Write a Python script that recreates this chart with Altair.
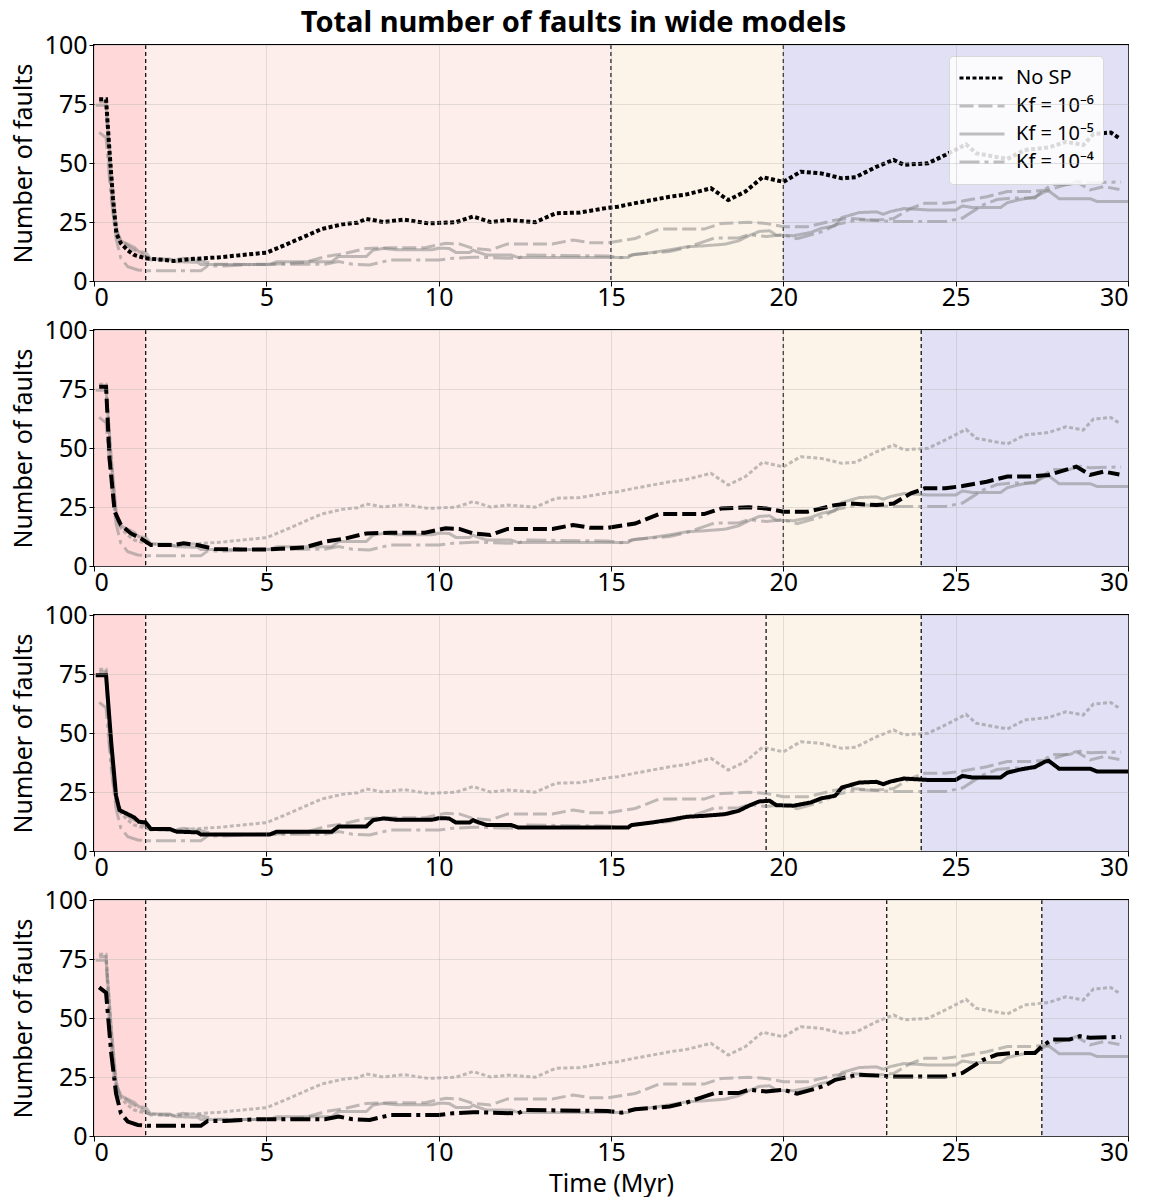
import altair as alt
import pandas as pd

# ---------------- data ----------------
SERIES = ["No SP", "Kf = 10⁻⁶", "Kf = 10⁻⁵", "Kf = 10⁻⁴"]

nosp_t = [0.15, 0.35, 0.45, 0.55, 0.65, 0.78, 0.98, 1.17, 1.5, 2.0, 2.3, 2.8, 3.6, 4.3, 5.0, 5.5,
          6.1, 6.6, 7.2, 7.65, 7.9, 8.4, 9.0, 9.7, 10.5, 11.0, 11.5, 12.0, 12.8, 13.4, 14.1, 14.9,
          15.2, 15.7, 16.2, 16.7, 17.2, 17.9, 18.4, 18.9, 19.4, 20.0, 20.5, 21.1, 21.7, 22.1, 22.7,
          23.2, 23.5, 24.2, 24.7, 25.3, 25.6, 26.5, 27.0, 27.7, 28.2, 28.7, 29.0, 29.5, 29.75]
nosp_v = [77, 77, 55, 35, 20, 16, 13, 11, 9.6, 9, 8.5, 9.3, 10, 11, 12, 15,
          18.8, 22, 24, 24.7, 26.3, 25, 26, 24.4, 24.9, 27.3, 25, 25.8, 24.9, 28.7, 29, 31,
          31.5, 33, 34.3, 35.7, 36.7, 39.3, 34.3, 37.9, 44, 42, 46.3, 45.6, 43.5, 44, 48.4,
          51.3, 49.2, 49.9, 53.4, 57.9, 54.1, 51.7, 55.5, 56.6, 59, 57.6, 62.3, 62.9, 60.5]

kf6_t = [0.15, 0.35, 0.45, 0.6, 0.78, 1.07, 1.36, 1.65, 2.3, 2.6, 3.0, 3.5, 4.3, 5.0, 6.1, 6.7,
         7.3, 7.9, 8.6, 9.6, 10.2, 10.6, 11.0, 11.5, 12.0, 13.3, 13.9, 14.4, 14.9, 15.7, 16.4,
         17.7, 18.2, 19.0, 19.5, 20.0, 20.7, 21.5, 21.9, 22.7, 23.2, 23.7, 24.1, 24.7, 25.2,
         25.9, 26.5, 27.2, 27.7, 28.5, 28.9, 29.3, 29.75]
kf6_v = [76, 76, 45.6, 23, 17.4, 13.8, 11.7, 8.9, 8.9, 9.6, 8.9, 7.2, 7, 7, 7.8, 10.3,
         11.7, 13.8, 14.1, 14.1, 16, 15.7, 13.8, 13.1, 15.7, 15.7, 17.4, 16.2, 16.2, 18, 22,
         22, 24.4, 24.9, 24.4, 23, 23, 25.8, 26.5, 25.8, 26.5, 30.8, 32.9, 32.9, 33.9,
         35.7, 37.9, 37.9, 38.6, 42.1, 38.6, 40, 38.8]

kf5_t = [0.05, 0.35, 0.5, 0.64, 0.74, 0.98, 1.17, 1.3, 1.5, 1.65, 2.2, 2.4, 3.0, 3.1, 5.1, 5.3,
         6.9, 7.1, 7.9, 8.1, 8.4, 8.8, 9.8, 10.0, 10.3, 10.5, 10.9, 11.0, 11.1, 11.4, 12.1, 12.3,
         15.5, 15.6, 16.2, 16.7, 17.2, 17.7, 18.3, 18.7, 19.0, 19.3, 19.6, 19.8, 20.3, 20.8,
         21.1, 21.5, 21.7, 22.2, 22.7, 22.9, 23.1, 23.5, 24.2, 25.0, 25.2, 25.5, 26.3, 26.5,
         26.9, 27.3, 27.6, 27.7, 28.0, 28.9, 29.1, 30.0]
kf5_v = [74.5, 74.5, 46, 23.4, 17.3, 15.6, 14.2, 12.4, 12.1, 9.3, 9.3, 8.2, 7.9, 7, 7, 8.2,
         8.2, 10.4, 10.4, 13.1, 13.8, 13.2, 13.2, 13.9, 13.8, 12.1, 12.1, 13.1, 12.4, 11, 11, 10,
         10, 11, 12.1, 13.2, 14.5, 14.9, 15.6, 17, 19.2, 21, 21.3, 19.4, 19.2, 20.6,
         22.3, 23.4, 26.9, 29, 29.3, 28.3, 29.4, 30.7, 30.1, 30.1, 31.8, 31.1, 31.1, 33.2,
         34.6, 35.6, 37.9, 38.2, 34.9, 34.9, 33.7, 33.7]

kf4_t = [0.15, 0.35, 0.5, 0.64, 0.78, 0.98, 1.27, 1.56, 3.1, 3.3, 3.8, 4.75, 6.7, 7.1, 7.5, 8.0,
         8.6, 10.0, 10.4, 11.0, 12.3, 12.5, 14.9, 15.3, 15.7, 16.7, 17.2, 17.7, 18.0, 18.7,
         19.0, 19.5, 20.0, 20.4, 20.9, 21.2, 21.5, 22.2, 23.2, 24.7, 25.2, 25.5, 25.8, 26.2,
         26.7, 27.3, 27.5, 27.8, 28.3, 28.6, 28.9, 29.8]
kf4_v = [63, 60.7, 35, 18, 9.6, 6.1, 4.7, 4.3, 4.3, 6.4, 6.4, 7.1, 7.1, 8.2, 7.1, 6.8,
         8.9, 8.9, 9.6, 10.1, 9.6, 11, 10.6, 9.9, 11.3, 12.5, 14.2, 16.7, 18.2, 18.2,
         19.6, 18.9, 19.6, 17.9, 19.9, 21.3, 23.8, 26, 25.2, 25.2, 26.7, 29.5, 32.3, 34.5,
         35.2, 35.2, 38, 40.9, 40.9, 42.3, 41.6, 42]

# per-panel settings
HIGHLIGHT = ["No SP", "Kf = 10⁻⁶", "Kf = 10⁻⁵", "Kf = 10⁻⁴"]
STAGE_START = [15, 20, 19.5, 23]
STAGE_END = [20, 24, 24, 27.5]
RIFT_END = 1.5
X_MAX = 30

ZONE_COLORS = ["#ffd9d9", "#fdeeeb", "#fdf4e9", "#e1e0f4"]
DASHES = [[4, 2.5], [14, 5], [1, 0], [20, 5, 4, 5]]
GREY = "rgba(128,128,128,0.5)"

rows = []
for name, ts, vs in [(SERIES[0], nosp_t, nosp_v), (SERIES[1], kf6_t, kf6_v),
                     (SERIES[2], kf5_t, kf5_v), (SERIES[3], kf4_t, kf4_v)]:
    for t, v in zip(ts, vs):
        rows.append({"series": name, "t": t, "v": v})
df = pd.DataFrame(rows)

FONT = "Noto Sans"
W, H = 1034, 236


def panel(i):
    hl = HIGHLIGHT[i]
    bounds = [0, RIFT_END, STAGE_START[i], STAGE_END[i], X_MAX]
    zones = pd.DataFrame({"x0": bounds[:-1], "x1": bounds[1:], "fill": ZONE_COLORS})
    marks = pd.DataFrame({"x": bounds[1:-1]})

    xscale = alt.Scale(domain=[0, X_MAX], nice=False, zero=False)
    yscale = alt.Scale(domain=[0, 100], nice=False)
    xaxis = alt.Axis(values=list(range(0, 31, 5)), title="Time (Myr)" if i == 3 else None,
                     grid=True, zindex=1, domain=False, format="d", titlePadding=6,
                     labelPadding=-1)
    yaxis = alt.Axis(values=[0, 25, 50, 75, 100], title="Number of faults",
                     grid=True, zindex=1, domain=False, titlePadding=8)

    bg = alt.Chart(zones).mark_rect().encode(
        x=alt.X("x0:Q", scale=xscale, axis=xaxis),
        x2="x1:Q",
        y=alt.YDatum(0, scale=yscale, axis=yaxis),
        y2=alt.datum(100),
        fill=alt.Fill("fill:N", scale=None, legend=None),
    )
    rules = alt.Chart(marks).mark_rule(color="black", strokeDash=[4, 3], strokeWidth=1.2).encode(
        x=alt.X("x:Q", scale=xscale, axis=xaxis)
    )

    colors = ["black" if s == hl else GREY for s in SERIES]
    if i == 0:
        leg = alt.Legend(title=None, orient="none", legendX=855, legendY=11,
                         symbolType="stroke", symbolSize=2025, symbolStrokeWidth=3,
                         labelFont=FONT, labelFontSize=20, labelColor="black",
                         fillColor="rgba(255,255,255,0.85)", strokeColor="#d8d8d8",
                         cornerRadius=4, padding=9, rowPadding=2, clipHeight=26,
                         labelOffset=10, labelLimit=200)
    else:
        leg = None

    base = alt.Chart(df).encode(
        x=alt.X("t:Q", scale=xscale, axis=xaxis),
        y=alt.Y("v:Q", scale=yscale, axis=yaxis),
        color=alt.Color("series:N", scale=alt.Scale(domain=SERIES, range=colors), legend=leg),
        strokeDash=alt.StrokeDash("series:N", scale=alt.Scale(domain=SERIES, range=DASHES), legend=leg),
    )
    grey = base.transform_filter(alt.datum.series != hl).mark_line(strokeWidth=3, strokeCap="butt")
    black = base.transform_filter(alt.datum.series == hl).mark_line(strokeWidth=4, strokeCap="butt")

    return alt.layer(bg, rules, grey, black).properties(width=W, height=H)


chart = alt.vconcat(*[panel(i) for i in range(4)], spacing=49, bounds="flush").resolve_scale(
    color="independent", strokeDash="independent", fill="independent"
).properties(
    title=alt.TitleParams("Total number of faults in wide models", font=FONT, fontSize=29,
                          fontWeight="bold", anchor="middle", color="black", offset=-6),
    padding={"left": 10, "top": 9, "right": 5, "bottom": 0},
).configure_view(
    stroke="black", strokeWidth=2
).configure_axis(
    labelFont=FONT, titleFont=FONT, labelFontSize=25, titleFontSize=25,
    titleFontWeight="normal", labelColor="black", titleColor="black",
    tickColor="black", tickSize=5,
    gridColor="#b0b0b0", gridOpacity=0.35
)

chart.save("out.html", embed_options={"renderer": "svg", "actions": False})
